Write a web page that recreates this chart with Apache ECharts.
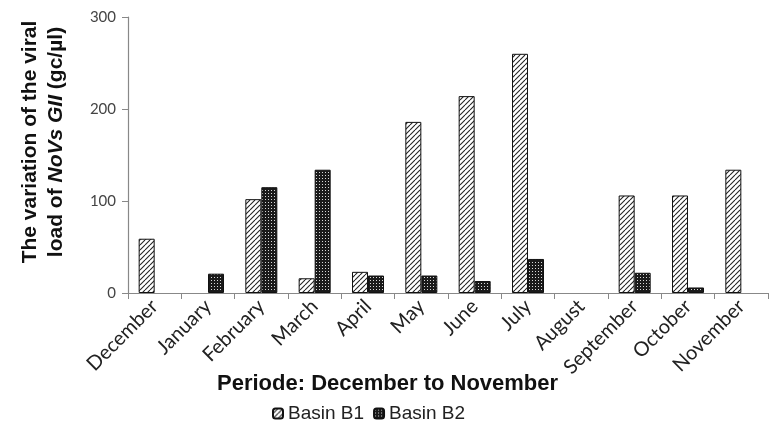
<!DOCTYPE html>
<html>
<head>
<meta charset="utf-8">
<script src="https://cdn.jsdelivr.net/npm/echarts@6/dist/echarts.min.js"></script>
<style>
  html, body { margin: 0; padding: 0; background: #fff; }
  #chart { width: 770px; height: 431px; }
</style>
</head>
<body>
<div id="chart"></div>
<script>
const months = ['December', 'January', 'February', 'March', 'April', 'May', 'June',
  'July', 'August', 'September', 'October', 'November'];
// null = no bar drawn for that month
const basinB1 = [59, null, 102, 16, 23, 186, 214, 260, null, 106, 106, 134];
const basinB2 = [null, 21, 115, 134, 19, 19, 13, 37, null, 22, 6, null];
const yTicks = [0, 100, 200, 300];

// hatched fill for Basin B1
const makeHatch = () => {
  const c = document.createElement('canvas');
  c.width = c.height = 5;
  const ctx = c.getContext('2d');
  ctx.fillStyle = '#fff';
  ctx.fillRect(0, 0, 5, 5);
  ctx.strokeStyle = '#222';
  ctx.lineWidth = 1.1;
  [-5, 0, 5].forEach(o => {
    ctx.beginPath();
    ctx.moveTo(o, 5);
    ctx.lineTo(o + 5, 0);
    ctx.stroke();
  });
  return c;
};

// dotted dark fill for Basin B2
const makeDots = () => {
  const c = document.createElement('canvas');
  c.width = c.height = 3;
  const ctx = c.getContext('2d');
  ctx.fillStyle = '#1a1a1a';
  ctx.fillRect(0, 0, 3, 3);
  ctx.fillStyle = '#d8d8d8';
  ctx.fillRect(1, 1, 1, 1);
  return c;
};

const myChart = echarts.init(document.getElementById('chart'));

const option = {
  animation: false,
  grid: { left: 128, right: 2, top: 17, bottom: 138 },
  legend: {
    left: 267,
    top: 399,
    itemWidth: 10,
    itemHeight: 10,
    itemGap: 9,
    textStyle: { fontFamily: 'Liberation Sans', fontSize: 19, color: '#222' },
    data: ['Basin B1', 'Basin B2']
  },
  xAxis: {
    type: 'category',
    data: months,
    axisLine: { lineStyle: { color: '#888', width: 1.2 } },
    axisTick: { show: true, length: 6, lineStyle: { color: '#888' } },
    axisLabel: {
      rotate: 45,
      margin: 10,
      interval: 0,
      fontFamily: 'Lato',
      fontSize: 20,
      color: '#222'
    }
  },
  yAxis: {
    type: 'value',
    min: 0,
    max: 300,
    interval: yTicks[1] - yTicks[0],
    axisLine: { show: true, lineStyle: { color: '#888', width: 1.2 } },
    axisTick: { show: true, length: 6, lineStyle: { color: '#888' } },
    splitLine: { show: false },
    axisLabel: { fontFamily: 'Lato', fontSize: 15, color: '#444', margin: 12 }
  },
  graphic: [
    {
      type: 'text',
      left: 217,
      top: 373,
      style: {
        text: 'Periode: December to November',
        font: 'bold 22px "Liberation Sans"',
        fill: '#111'
      }
    },
    {
      type: 'text',
      x: 43,
      y: 142,
      rotation: Math.PI / 2,
      style: {
        text: '{n|The variation of the viral}\n{n|load of }{i|NoVs GII}{n| (gc/µl)}',
        align: 'center',
        verticalAlign: 'middle',
        lineHeight: 26,
        rich: {
          n: { font: 'bold 21px "Liberation Sans"', fill: '#111', lineHeight: 26 },
          i: { font: 'italic bold 21px "Liberation Sans"', fill: '#111', lineHeight: 26 }
        }
      }
    }
  ],
  series: [
    {
      name: 'Basin B1',
      type: 'bar',
      data: basinB1,
      barWidth: 16,
      barGap: '0%',
      itemStyle: {
        color: { image: makeHatch(), repeat: 'repeat' },
        borderColor: '#111',
        borderWidth: 1
      }
    },
    {
      name: 'Basin B2',
      type: 'bar',
      data: basinB2,
      barWidth: 16,
      itemStyle: {
        color: { image: makeDots(), repeat: 'repeat' },
        borderColor: '#111',
        borderWidth: 1
      }
    }
  ]
};

myChart.setOption(option);
</script>
</body>
</html>
